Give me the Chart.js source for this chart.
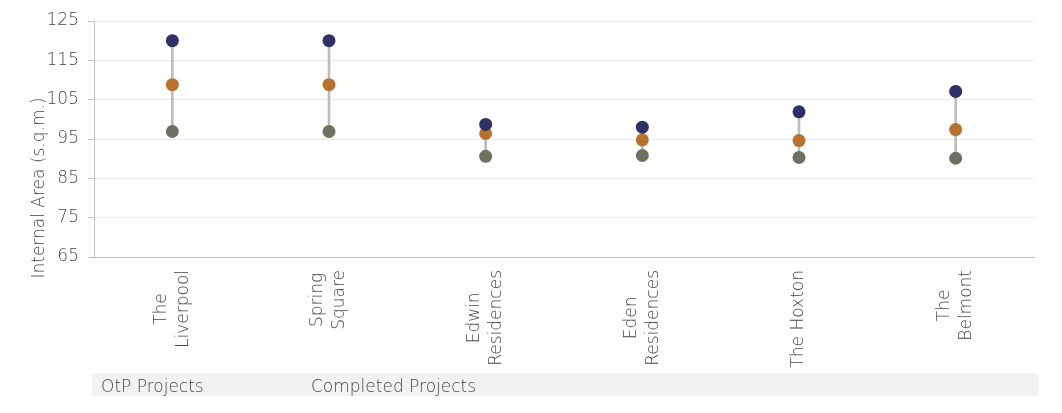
<!DOCTYPE html>
<html><head><meta charset="utf-8">
<script src="https://cdn.jsdelivr.net/npm/chart.js@4.4.1/dist/chart.umd.min.js"></script>
<style>html,body{margin:0;padding:0;background:#fff;}#wrap{width:1062px;height:413px;position:relative;}</style>
</head><body><div id="wrap"><canvas id="c" width="1062" height="413"></canvas></div>
<script>
const categories = [["The","Liverpool"],["Spring","Square"],["Edwin","Residences"],["Eden","Residences"],["The Hoxton"],["The","Belmont"]];
const maxArea = [120, 120, 98.7, 98.0, 101.9, 107.1];
const avgArea = [108.8, 108.8, 96.4, 94.8, 94.6, 97.4];
const minArea = [96.9, 96.9, 90.6, 90.8, 90.3, 90.1];
const yMin = 65, yMax = 125, yStep = 10;
const yTitle = "Internal Area (s.q.m.)";
const groupLabels = ["OtP Projects", "Completed Projects"];
const groupStart = [0, 1];

const FONT = '"DejaVu Sans", sans-serif';
const TXT = '#454545';

const labelPlugin = {
  id: 'labels',
  afterDraw(chart, args, opts) {
    const ctx = chart.ctx, xs = chart.scales.x, ca = chart.chartArea;
    ctx.save();
    ctx.fillStyle = TXT;
    ctx.font = '200 17px ' + FONT;
    // category labels (rotated, lines centred within block)
    categories.forEach((lines, i) => {
      const x = xs.getPixelForValue(i);
      const maxW = Math.max(...lines.map(l => ctx.measureText(l).width));
      const cy = ca.bottom + 13 + maxW / 2;
      ctx.save();
      ctx.translate(x, cy);
      ctx.rotate(-Math.PI / 2);
      ctx.textAlign = 'center';
      ctx.textBaseline = 'middle';
      const n = lines.length, lh = 22;
      lines.forEach((l, j) => ctx.fillText(l, 0, (j - (n - 1) / 2) * lh));
      ctx.restore();
    });
    // group band
    ctx.fillStyle = '#F2F2F2';
    ctx.fillRect(ca.left - 2, ca.bottom + 116, ca.right - ca.left + 7, 23);
    ctx.fillStyle = TXT;
    ctx.textAlign = 'left';
    ctx.textBaseline = 'middle';
    groupLabels.forEach((g, k) => {
      const off = opts.groupOffsets[k];
      ctx.fillText(g, ca.left + off, ca.bottom + 131);
    });
    // y title
    ctx.save();
    ctx.translate(40, 188);
    ctx.rotate(-Math.PI / 2);
    ctx.textAlign = 'center';
    ctx.textBaseline = 'middle';
    ctx.fillText(yTitle, 0, 0);
    ctx.restore();
    ctx.restore();
  }
};

new Chart(document.getElementById('c'), {
  type: 'bar',
  data: {
    labels: categories.map(c => c.join(' ')),
    datasets: [
      { type: 'line', label: 'Max', data: maxArea, showLine: false, pointRadius: 6.5, pointHoverRadius: 6.5,
        pointBackgroundColor: '#2E3168', pointBorderColor: '#2E3168', pointBorderWidth: 0, order: 1 },
      { type: 'line', label: 'Average', data: avgArea, showLine: false, pointRadius: 6.5, pointHoverRadius: 6.5,
        pointBackgroundColor: '#B9722E', pointBorderColor: '#B9722E', pointBorderWidth: 0, order: 2 },
      { type: 'line', label: 'Min', data: minArea, showLine: false, pointRadius: 6.5, pointHoverRadius: 6.5,
        pointBackgroundColor: '#6C725F', pointBorderColor: '#6C725F', pointBorderWidth: 0, order: 3 },
      { type: 'bar', label: 'Range', data: minArea.map((m, i) => [m, maxArea[i]]),
        backgroundColor: '#BDBDBD', barThickness: 2, order: 4 }
    ]
  },
  options: {
    responsive: false,
    animation: false,
    devicePixelRatio: 1,
    layout: { padding: { top: 21, right: 28, left: 0, bottom: 0 } },
    plugins: { legend: { display: false }, tooltip: { enabled: false }, labels: { groupOffsets: [7, 217] } },
    scales: {
      x: {
        offset: true,
        grid: { display: false, drawTicks: false },
        border: { color: '#BFBFBF', width: 1 },
        ticks: { display: false },
        afterFit(s) { s.height = 156; }
      },
      y: {
        min: yMin, max: yMax,
        grid: { color: '#E9E9E9', tickColor: '#BFBFBF', tickLength: 6, drawTicks: true },
        border: { color: '#BFBFBF', width: 1 },
        ticks: { stepSize: yStep, padding: 9, color: TXT, font: { family: FONT, size: 17, weight: 200 } },
        afterFit(s) { s.width = 94; }
      }
    }
  },
  plugins: [labelPlugin]
});
</script></body></html>
